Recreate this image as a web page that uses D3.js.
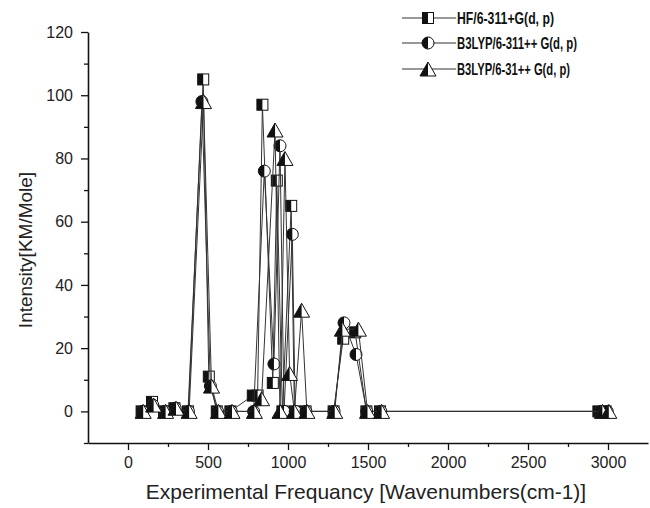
<!DOCTYPE html>
<html><head><meta charset="utf-8">
<script src="https://cdn.jsdelivr.net/npm/d3@7"></script>
<style>body{margin:0;background:#fff}svg{display:block}</style>
</head><body>
<svg id="c" width="650" height="508"></svg>
<script>
// ---- data ----
const seriesNames = ["HF/6-311+G(d, p)", "B3LYP/6-311++ G(d, p)", "B3LYP/6-31++ G(d, p)"];
const hfFreq = [85,150,225,290,375,470,505,555,640,780,810,840,905,930,965,1020,1040,1110,1285,1345,1420,1490,1575,2940,2985];
const hfInt  = [0,3,0,1,0,105,11,0,0,5,5,97,9,73,0,65,0,0,0,23,25,0,0,0,0];
const b311Freq = [90,155,230,295,378,462,515,560,645,785,852,912,950,975,1027,1045,1112,1288,1350,1425,1492,1580,2955,2995];
const b311Int  = [0,2,0,1,0,98,8,0,0,0,76,15,84,0,56,0,0,0,28,18,0,0,0,0];
const b31Freq = [95,160,235,300,382,472,522,565,650,790,835,919,950,981,1010,1040,1085,1118,1292,1340,1440,1497,1585,2965,3005];
const b31Int  = [0,2,0,1,0,98,8,0,0,0,4,89,0,80,12,0,32,0,0,26,26,0,0,0,0];
const xTicks = [0,500,1000,1500,2000,2500,3000];
const xMinor = [250,750,1250,1750,2250,2750];
const yTicks = [0,20,40,60,80,100,120];
const yMinor = [-10,10,30,50,70,90,110];
const xTitle = "Experimental Frequancy [Wavenumbers(cm-1)]";
const yTitle = "Intensity[KM/Mole]";

const svg = d3.select("#c");
const x = d3.scaleLinear().domain([-250, 3250]).range([88, 648]);
const y = d3.scaleLinear().domain([-10, 120]).range([443, 32]);
const font = "'Liberation Sans', Arial, sans-serif";

// axes
const gx = svg.append("g").attr("transform", `translate(0,${y(-10)})`);
gx.call(d3.axisBottom(x).tickValues(xTicks).tickFormat(d3.format("d")).tickSize(7).tickSizeOuter(0).tickPadding(7));
gx.append("g").call(d3.axisBottom(x).tickValues(xMinor).tickSize(4).tickFormat(""))
  .select(".domain").remove();
const gy = svg.append("g").attr("transform", `translate(${x(-250)},0)`);
gy.call(d3.axisLeft(y).tickValues(yTicks).tickFormat(d3.format("d")).tickSize(7).tickSizeOuter(0).tickPadding(8));
gy.append("g").call(d3.axisLeft(y).tickValues(yMinor).tickSize(4).tickFormat(""))
  .select(".domain").remove();
svg.selectAll(".domain").attr("stroke", "#111").attr("stroke-width", 1.6);
svg.selectAll(".tick line").attr("stroke", "#111").attr("stroke-width", 1.3);
svg.selectAll(".tick text").attr("font-family", font).attr("font-size", 16).attr("fill", "#222");

svg.append("text").attr("x", 366).attr("y", 499).attr("text-anchor", "middle")
  .attr("font-family", font).attr("font-size", 21).attr("fill", "#222").text(xTitle);
svg.append("text").attr("transform", `translate(32,250) rotate(-90)`).attr("text-anchor", "middle")
  .attr("font-family", font).attr("font-size", 19).attr("fill", "#222").text(yTitle);

// markers
function drawMarker(g, type, cx, cy) {
  const m = g.append("g").attr("transform", `translate(${cx},${cy})`);
  if (type === 0) {
    const s = 11;
    m.append("rect").attr("x", -s/2).attr("y", -s/2).attr("width", s).attr("height", s)
      .attr("fill", "#fff").attr("stroke", "#111").attr("stroke-width", 1);
    m.append("rect").attr("x", -s/2).attr("y", -s/2).attr("width", s/2).attr("height", s).attr("fill", "#111");
  } else if (type === 1) {
    const r = 6;
    m.append("circle").attr("r", r).attr("fill", "#fff").attr("stroke", "#111").attr("stroke-width", 1);
    m.append("path").attr("d", `M0,${-r} A${r},${r} 0 0 0 0,${r} Z`).attr("fill", "#111");
  } else {
    const w = 8, h = 7;
    m.append("path").attr("d", `M0,${-h} L${w},${h} L${-w},${h} Z`)
      .attr("fill", "#fff").attr("stroke", "#111").attr("stroke-width", 1);
    m.append("path").attr("d", `M0,${-h} L0,${h} L${-w},${h} Z`).attr("fill", "#111");
  }
}

const sets = [[hfFreq, hfInt], [b311Freq, b311Int], [b31Freq, b31Int]];
const line = d3.line().x(d => x(d[0])).y(d => y(d[1]));
sets.forEach((s, i) => {
  const pts = s[0].map((f, k) => [f, s[1][k]]);
  const g = svg.append("g");
  g.append("path").attr("d", line(pts)).attr("fill", "none").attr("stroke", "#333").attr("stroke-width", 1);
  pts.forEach(p => drawMarker(g, i, x(p[0]), y(p[1])));
});

// legend
const legY = [18, 43, 69];
const legW = [97, 120, 113];
seriesNames.forEach((n, i) => {
  const g = svg.append("g");
  g.append("line").attr("x1", 402).attr("x2", 456).attr("y1", legY[i]).attr("y2", legY[i])
    .attr("stroke", "#333").attr("stroke-width", 1);
  drawMarker(g, i, 428, legY[i]);
  g.append("text").attr("x", 457).attr("y", legY[i] + 6).attr("font-family", "'Liberation Sans Narrow', 'Arial Narrow', Arial, sans-serif")
    .attr("font-weight", "bold").attr("font-size", 17).attr("fill", "#111")
    .attr("textLength", legW[i]).attr("lengthAdjust", "spacingAndGlyphs").text(n);
});
</script>
</body></html>
